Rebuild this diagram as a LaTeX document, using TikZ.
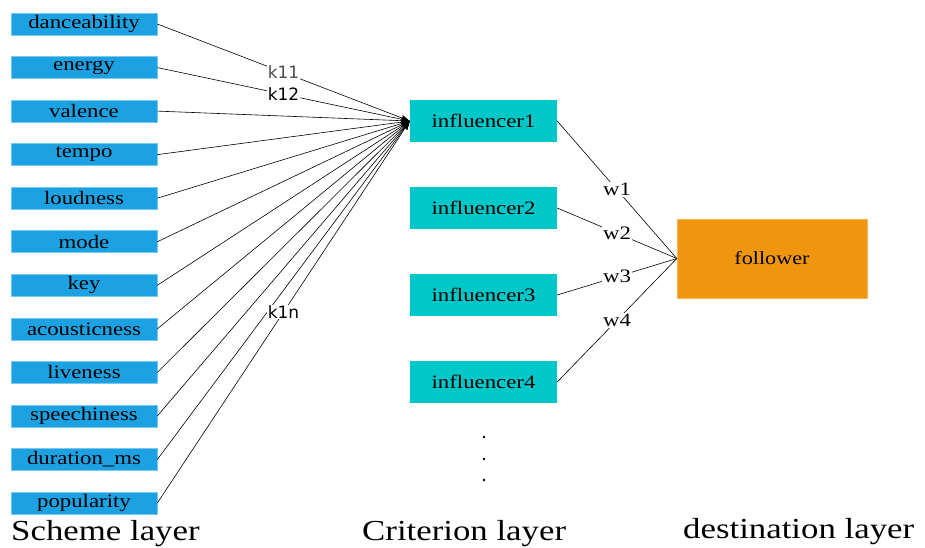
\documentclass[tikz,border=0pt]{standalone}
\usepackage{fontspec}
\setmainfont[FakeStretch=1.2]{Liberation Serif}
\newfontfamily\klabfont{DejaVu Sans}
\usetikzlibrary{arrows.meta}
\definecolor{featblue}{RGB}{28,161,226}
\definecolor{featedge}{RGB}{120,200,240}
\definecolor{infteal}{RGB}{0,200,200}
\definecolor{folorange}{RGB}{240,150,14}
\begin{document}
\begin{tikzpicture}[x=1pt,y=-1pt,
  feat/.style={fill=featblue,draw=featedge,line width=0.6pt,minimum width=146pt,minimum height=22pt,inner sep=0pt,font=\fontsize{19}{19}\selectfont},
  infl/.style={fill=infteal,minimum width=147pt,minimum height=42pt,inner sep=0pt,font=\fontsize{19}{19}\selectfont},
  conn/.style={line width=0.6pt,black},
  klab/.style={fill=white,inner sep=1pt,font=\klabfont\fontsize{17}{17}\selectfont},
  wlab/.style={fill=white,inner sep=1pt,font=\fontsize{19}{19}\selectfont},
  layerlab/.style={anchor=base west,inner sep=0pt,font=\fontsize{29}{29}\selectfont}]
\useasboundingbox (0,0) rectangle (925,547);
% feature boxes
\foreach \nm/\txt [count=\i from 0] in {f1/danceability,f2/energy,f3/valence,f4/tempo,f5/loudness,f6/mode,f7/key,f8/acousticness,f9/liveness,f10/speechiness,f11/duration\_ms,f12/popularity}
  \node[feat] (\nm) at (84,{24+43.55*\i}) {\txt};
% influencers
\node[infl] (inf1) at (483.5,121) {influencer1};
\node[infl] (inf2) at (483.5,208) {influencer2};
\node[infl] (inf3) at (483.5,295) {influencer3};
\node[infl] (inf4) at (483.5,382) {influencer4};
% follower
\node[fill=folorange,draw=folorange!70!white,minimum width=190pt,minimum height=79pt,inner sep=0pt,font=\fontsize{18.5}{18.5}\selectfont] (fol) at (772,258.5) {follower};
% connectors features -> influencer1
\foreach \nm in {f3,f4,f5,f6,f7,f8,f9,f10,f11}
  \draw[conn,-{Stealth[length=9pt,width=6pt]}] (\nm.east) -- (inf1.west);
\draw[conn,-{Stealth[length=9pt,width=6pt]}] (f1.east) -- node[klab,text=black!70,pos=0.5] {k11} (inf1.west);
\draw[conn,-{Stealth[length=9pt,width=6pt]}] (f2.east) -- node[klab,pos=0.5] {k12} (inf1.west);
\draw[conn,-{Stealth[length=9pt,width=6pt]}] (f12.east) -- node[klab,pos=0.5] {k1n} (inf1.west);
% influencers -> follower
\draw[conn] (inf1.east) -- node[wlab] {w1} (fol.west);
\draw[conn] (inf2.east) -- node[wlab] {w2} (fol.west);
\draw[conn] (inf3.east) -- node[wlab] {w3} (fol.west);
\draw[conn] (inf4.east) -- node[wlab] {w4} (fol.west);
% dots
\fill (484,437) circle (1.4pt);
\fill (484,459) circle (1.4pt);
\fill (484,480) circle (1.4pt);
% layer labels
\node[layerlab] (lab1) at (11,540) {Scheme layer};
\node[layerlab] (lab2) at (362,540) {Criterion layer};
\node[layerlab] (lab3) at (683,538) {destination layer};
\end{tikzpicture}
\end{document}
